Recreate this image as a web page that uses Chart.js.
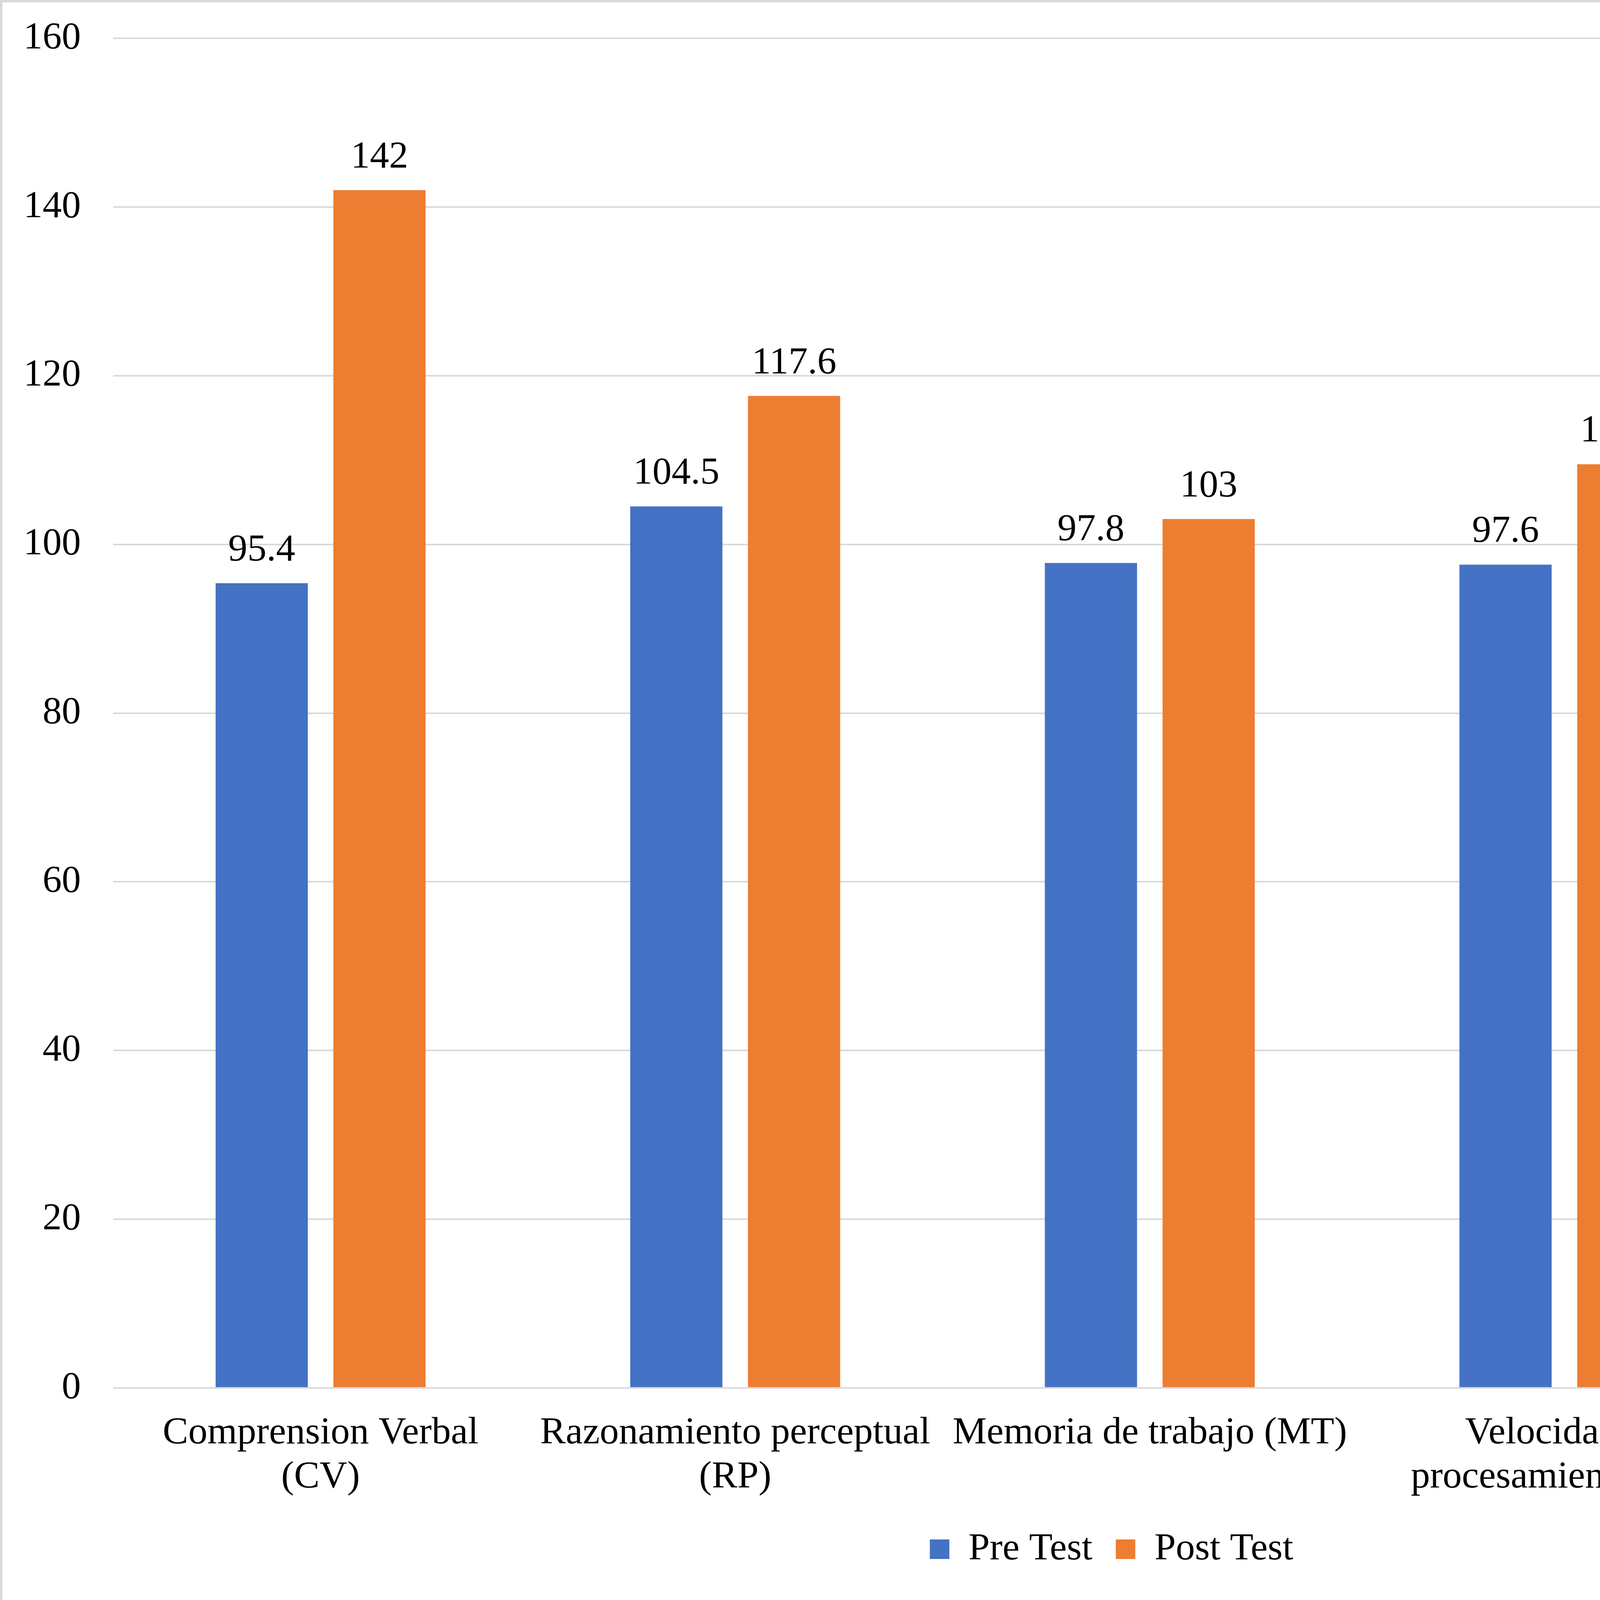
<!DOCTYPE html>
<html>
<head>
<meta charset="utf-8">
<script src="https://cdn.jsdelivr.net/npm/chart.js@4.4.1/dist/chart.umd.min.js"></script>
<style>
  html, body { margin: 0; padding: 0; background: #fff; }
  #marco {
    position: absolute; left: 0; top: 0;
    width: 5691px; height: 4123px;
    box-sizing: border-box;
    border: 6px solid #d9d9d9;
    background: #fff;
  }
  canvas { display: block; }
</style>
</head>
<body>
<div id="marco">
  <canvas id="grafico" width="5679" height="4111"></canvas>
</div>
<script>
// datos del grafico
const categorias = [
    ['Comprension Verbal', '(CV)'],
    ['Razonamiento perceptual', '(RP)'],
    'Memoria de trabajo (MT)',
    ['Velocidad de', 'procesamiento (VP)'],
    ['Coeficiente Intelectual', 'Total (CI)']
];
const preTest = [95.4, 104.5, 97.8, 97.6, 98.3];
const postTest = [142, 117.6, 103, 109.5, 125.6];
const ticksY = [0, 20, 40, 60, 80, 100, 120, 140, 160];

const fuente = '"Liberation Serif", "Times New Roman", serif';

// etiquetas de valor encima de cada barra
const etiquetasValor = {
    id: 'etiquetasValor',
    afterDatasetsDraw(chart) {
        const ctx = chart.ctx;
        ctx.save();
        ctx.font = '98px ' + fuente;
        ctx.fillStyle = '#000';
        ctx.textAlign = 'center';
        ctx.textBaseline = 'alphabetic';
        chart.data.datasets.forEach((ds, i) => {
            const meta = chart.getDatasetMeta(i);
            meta.data.forEach((bar, j) => {
                ctx.fillText(String(ds.data[j]), bar.x, bar.y - 58);
            });
        });
        ctx.restore();
    }
};

// la leyenda del original esta un poco a la derecha del centro
const moverLeyenda = {
    id: 'moverLeyenda',
    afterLayout(chart) {
        if (chart.legend) {
            chart.legend.left += 44;
            chart.legend.right += 44;
        }
    }
};

const ctx = document.getElementById('grafico').getContext('2d');
new Chart(ctx, {
    type: 'bar',
    data: {
        labels: categorias,
        datasets: [
            {
                label: 'Pre Test',
                data: preTest,
                backgroundColor: '#4472C4',
                categoryPercentage: 0.568,
                barPercentage: 0.783
            },
            {
                label: 'Post Test',
                data: postTest,
                backgroundColor: '#ED7D31',
                categoryPercentage: 0.568,
                barPercentage: 0.783
            }
        ]
    },
    options: {
        responsive: false,
        devicePixelRatio: 1,
        animation: false,
        layout: {
            padding: { top: 92, right: 88, bottom: 92, left: 0 }
        },
        plugins: {
            legend: {
                position: 'bottom',
                labels: {
                    boxWidth: 50,
                    boxHeight: 50,
                    padding: 60,
                    color: '#000',
                    font: { family: fuente, size: 98 }
                }
            },
            tooltip: { enabled: false }
        },
        scales: {
            y: {
                min: 0,
                max: 160,
                afterFit(scale) {
                    scale.width = 284;
                    scale.paddingTop = 50;
                    scale.paddingBottom = 50;
                },
                afterBuildTicks(scale) {
                    scale.ticks = ticksY.map(v => ({ value: v }));
                },
                border: { display: false },
                grid: {
                    color: '#d9d9d9',
                    lineWidth: 4,
                    drawTicks: false
                },
                ticks: {
                    padding: 83,
                    color: '#000',
                    font: { family: fuente, size: 98 }
                }
            },
            x: {
                afterFit(scale) { scale.height = 304; },
                border: { display: false },
                grid: { display: false, drawTicks: false },
                ticks: {
                    padding: 60,
                    maxRotation: 0,
                    minRotation: 0,
                    autoSkip: false,
                    color: '#000',
                    font: { family: fuente, size: 98, lineHeight: 1.15 }
                }
            }
        }
    },
    plugins: [etiquetasValor, moverLeyenda]
});
</script>
</body>
</html>
